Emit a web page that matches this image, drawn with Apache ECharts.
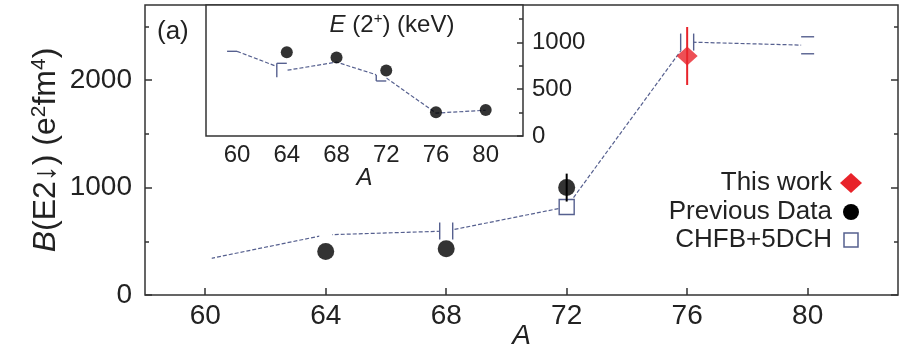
<!DOCTYPE html>
<html>
<head>
<meta charset="utf-8">
<script src="https://cdn.jsdelivr.net/npm/echarts@6.0.0/dist/echarts.min.js"></script>
<style>
  html, body { margin: 0; padding: 0; background: #fff; }
  #chart { width: 900px; height: 350px; }
</style>
</head>
<body>
<div id="chart"></div>
<script>
'use strict';
// mass number ticks
var massTicks = [60, 64, 68, 72, 76, 80];

// main panel: B(E2) in e^2 fm^4
var prevA = [64, 68, 72];
var prevBE2 = [405, 430, 1000];
var prevBE2Err = [0, 0, 130];
var thisA = [76];
var thisBE2 = [2225];
var thisBE2Err = [270];
var calcA = [60, 64, 68, 72, 76, 80];
var calcBE2 = [330, 560, 595, 820, 2355, 2325];
var bTicks = [0, 1000, 2000];
var bMinorTicks = [500, 1500, 2500];

// inset: E(2+) in keV
var insetA = [64, 68, 72, 76, 80];
var insetE2 = [895, 840, 700, 255, 277];
var calcE2 = [905, 702, 790, 620, 245, 275];
var eTicks = [0, 500, 1000];
var eMinorTicks = [250, 750, 1250];

// how much of each theory square is visible in the picture
var calcMarks = ['gap', 'gap', 'sides', 'box', 'sides', 'caps'];
var insetMarks = ['bar', 'gamma', 'none', 'ell', 'none', 'none'];

var FONT = "'Liberation Sans', Arial, Helvetica, sans-serif";
var INK = '#222';
var FRAME = '#333';
var CALC = '#56608f';
var RED = '#e8232a';

function pairs(xs, ys) {
    return xs.map(function (x, i) { return [x, ys[i]]; });
}

function plain(v) {
    return String(v);
}

function errorRenderer(color) {
    return function (params, api) {
        var x = api.value(0), y = api.value(1), e = api.value(2);
        if (!e) return null;
        var top = api.coord([x, y + e]);
        var bot = api.coord([x, y - e]);
        return {
            type: 'line',
            shape: { x1: top[0], y1: top[1], x2: bot[0], y2: bot[1] },
            style: { stroke: color, lineWidth: 2 }
        };
    };
}

function markRenderer(marks, w, h) {
    return function (params, api) {
        var kind = marks[params.dataIndex];
        if (kind === 'none') return null;
        var p = api.coord([api.value(0), api.value(1)]);
        var cx = p[0], cy = p[1];
        var kids = [];
        var line = { stroke: CALC, lineWidth: 1.4 };
        var seg = function (x1, y1, x2, y2) {
            kids.push({ type: 'line', shape: { x1: x1, y1: y1, x2: x2, y2: y2 }, style: line });
        };
        var mask = function (x, y, ww, hh) {
            kids.push({ type: 'rect', shape: { x: x, y: y, width: ww, height: hh }, style: { fill: '#fff' } });
        };
        if (kind === 'gap') {
            mask(cx - w / 2, cy - h / 2, w, h);
        } else if (kind === 'sides') {
            mask(cx - w / 2, cy - h / 2, w, h);
            seg(cx - w / 2, cy - h / 2, cx - w / 2, cy + h / 2);
            seg(cx + w / 2, cy - h / 2, cx + w / 2, cy + h / 2);
        } else if (kind === 'caps') {
            mask(cx - w / 2, cy - h / 2, w, h);
            seg(cx - w / 2, cy - h / 2, cx + w / 2, cy - h / 2);
            seg(cx - w / 2, cy + h / 2, cx + w / 2, cy + h / 2);
        } else if (kind === 'box') {
            kids.push({ type: 'rect', shape: { x: cx - 7.5, y: cy - 7.5, width: 15, height: 15 },
                style: { fill: '#fff', stroke: CALC, lineWidth: 1.4 } });
        } else if (kind === 'bar') {
            seg(cx - w, cy, cx, cy);
        } else if (kind === 'gamma') {
            mask(cx - w, cy - 7, w, 14);
            seg(cx - w, cy - 7, cx - w, cy + 7);
            seg(cx - w, cy - 7, cx, cy - 7);
        } else if (kind === 'ell') {
            mask(cx - w, cy - 8, w, 11);
            seg(cx - w, cy - 3, cx - w, cy + 3);
            seg(cx - w, cy + 3, cx, cy + 3);
        }
        return { type: 'group', children: kids };
    };
}

function tickAxis(grid, position, ticks, length, labels, fontSize, margin) {
    return {
        type: 'value', gridIndex: grid, position: position,
        min: 0, max: grid === 0 ? 2700 : 1400,
        axisLine: { show: false },
        splitLine: { show: false },
        axisTick: { show: true, inside: true, length: length, customValues: ticks,
            lineStyle: { color: FRAME, width: 1.5 } },
        axisLabel: labels ? { show: true, customValues: ticks, fontSize: fontSize, margin: margin,
            color: INK, fontFamily: FONT, formatter: plain } : { show: false }
    };
}

var chart = echarts.init(document.getElementById('chart'), null, { renderer: 'canvas' });

var yMain = tickAxis(0, 'left', bTicks, 7, true, 28, 13);
yMain.name = '{i|B}{n|(E2\u2193) (e}{s|2}{n|fm}{s|4}{n|)}';
yMain.nameLocation = 'middle';
yMain.nameRotate = 90;
yMain.nameGap = 81;
yMain.nameMoveOverlap = false;
yMain.nameTextStyle = {
    fontFamily: FONT, color: INK,
    rich: {
        i: { fontSize: 32, fontStyle: 'italic', fontFamily: FONT, color: INK, lineHeight: 35 },
        n: { fontSize: 32, fontFamily: FONT, color: INK, lineHeight: 35 },
        s: { fontSize: 21, fontFamily: FONT, color: INK, verticalAlign: 'top', lineHeight: 35 }
    }
};

var option = {
    animation: false,
    backgroundColor: '#fff',
    textStyle: { fontFamily: FONT },
    grid: [
        { left: 145, right: 2, top: 5, bottom: 55, show: true, borderColor: FRAME, borderWidth: 1.5,
          outerBoundsMode: 'none', containLabel: false },
        { left: 206, top: 5, width: 317, height: 131, show: true, backgroundColor: '#fff',
          borderColor: FRAME, borderWidth: 1.5, z: 3, outerBoundsMode: 'none', containLabel: false }
    ],
    xAxis: [
        {
            type: 'value', gridIndex: 0, min: 58, max: 83,
            axisLine: { show: false }, splitLine: { show: false },
            axisTick: { inside: true, length: 7, customValues: massTicks, lineStyle: { color: FRAME, width: 1.5 } },
            axisLabel: { customValues: massTicks, fontSize: 28, margin: 7, color: INK, fontFamily: FONT, formatter: plain },
            name: 'A', nameLocation: 'middle', nameGap: 27, nameMoveOverlap: false,
            nameTextStyle: { fontSize: 28, fontStyle: 'italic', color: INK, fontFamily: FONT }
        },
        {
            type: 'value', gridIndex: 1, min: 57.5, max: 83, z: 4,
            axisLine: { show: false }, splitLine: { show: false },
            axisTick: { show: false },
            axisLabel: { customValues: massTicks, fontSize: 24, margin: 7, color: INK, fontFamily: FONT, formatter: plain },
            name: 'A', nameLocation: 'middle', nameGap: 30, nameMoveOverlap: false,
            nameTextStyle: { fontSize: 24, fontStyle: 'italic', color: INK, fontFamily: FONT }
        }
    ],
    yAxis: [
        yMain,
        tickAxis(0, 'left', bMinorTicks, 4, false),
        tickAxis(0, 'right', bTicks, 7, false),
        tickAxis(0, 'right', bMinorTicks, 4, false),
        Object.assign(tickAxis(1, 'right', eTicks, 6, true, 24, 9), { z: 4 }),
        Object.assign(tickAxis(1, 'right', eMinorTicks, 4, false), { z: 4 })
    ],
    series: [
        {
            name: 'CHFB+5DCH', type: 'line', xAxisIndex: 0, yAxisIndex: 0,
            data: pairs(calcA, calcBE2), symbol: 'none', z: 2,
            lineStyle: { color: CALC, width: 1.2, type: [4, 2] }
        },
        {
            type: 'custom', xAxisIndex: 0, yAxisIndex: 0, z: 3,
            data: pairs(calcA, calcBE2), renderItem: markRenderer(calcMarks, 13, 17)
        },
        {
            type: 'custom', xAxisIndex: 0, yAxisIndex: 0, z: 4,
            data: prevA.map(function (a, i) { return [a, prevBE2[i], prevBE2Err[i]]; }),
            renderItem: errorRenderer('#000')
        },
        {
            name: 'Previous Data', type: 'scatter', xAxisIndex: 0, yAxisIndex: 0, z: 5,
            data: pairs(prevA, prevBE2), symbol: 'circle', symbolSize: 17,
            itemStyle: { color: '#000' }
        },
        {
            type: 'custom', xAxisIndex: 0, yAxisIndex: 0, z: 5,
            data: thisA.map(function (a, i) { return [a, thisBE2[i], thisBE2Err[i]]; }),
            renderItem: errorRenderer(RED)
        },
        {
            name: 'This work', type: 'scatter', xAxisIndex: 0, yAxisIndex: 0, z: 6,
            data: pairs(thisA, thisBE2), symbol: 'diamond', symbolSize: [21, 19],
            itemStyle: { color: RED }
        },
        // inset
        {
            type: 'line', xAxisIndex: 1, yAxisIndex: 4, z: 5,
            data: pairs(calcA, calcE2), symbol: 'none',
            lineStyle: { color: CALC, width: 1.2, type: [4, 2] }
        },
        {
            type: 'custom', xAxisIndex: 1, yAxisIndex: 4, z: 6,
            data: pairs(calcA, calcE2), renderItem: markRenderer(insetMarks, 10, 14)
        },
        {
            type: 'scatter', xAxisIndex: 1, yAxisIndex: 4, z: 7,
            data: pairs(insetA, insetE2), symbol: 'circle', symbolSize: 12,
            itemStyle: { color: '#000' }
        }
    ],
    graphic: [
        { type: 'text', left: 157, top: 19, z: 10,
          style: { text: '(a)', fontSize: 26, fontFamily: FONT, fill: INK } },
        { type: 'text', x: 392, y: 25, z: 10,
          style: { text: '{i|E}{n| (2}{s|+}{n|) (keV)}', align: 'center', verticalAlign: 'middle',
              rich: {
                  i: { fontSize: 24, fontStyle: 'italic', fontFamily: FONT, fill: INK, lineHeight: 28 },
                  n: { fontSize: 24, fontFamily: FONT, fill: INK, lineHeight: 28 },
                  s: { fontSize: 15, fontFamily: FONT, fill: INK, verticalAlign: 'top', lineHeight: 28 }
              } } },
        { type: 'text', x: 832, y: 183, z: 10,
          style: { text: 'This work', align: 'right', verticalAlign: 'middle', fontSize: 26, fontFamily: FONT, fill: INK } },
        { type: 'text', x: 832, y: 212, z: 10,
          style: { text: 'Previous Data', align: 'right', verticalAlign: 'middle', fontSize: 26, fontFamily: FONT, fill: INK } },
        { type: 'text', x: 832, y: 240, z: 10,
          style: { text: 'CHFB+5DCH', align: 'right', verticalAlign: 'middle', fontSize: 26, fontFamily: FONT, fill: INK } },
        { type: 'polygon', z: 10, shape: { points: [[851, 173], [862, 183], [851, 193], [840, 183]] },
          style: { fill: RED } },
        { type: 'circle', z: 10, shape: { cx: 851, cy: 212, r: 8 }, style: { fill: '#000' } },
        { type: 'rect', z: 10, shape: { x: 844, y: 233, width: 14, height: 14 },
          style: { fill: '#fff', stroke: CALC, lineWidth: 1.5 } }
    ]
};

chart.setOption(option);
</script>
</body>
</html>
